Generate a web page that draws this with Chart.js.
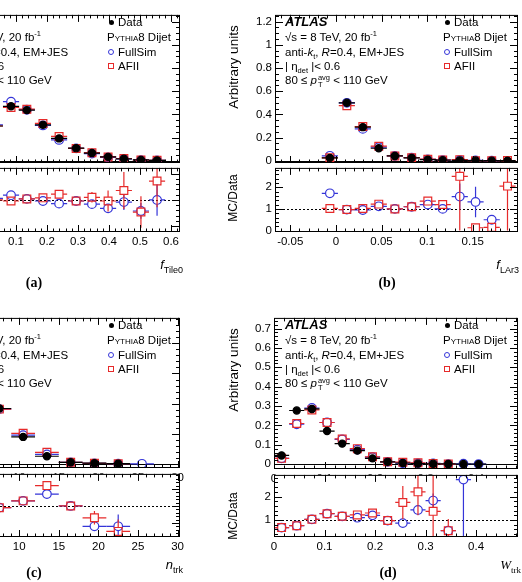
<!DOCTYPE html>
<html>
<head>
<meta charset="utf-8">
<script src="https://cdn.jsdelivr.net/npm/chart.js@4.4.1/dist/chart.umd.min.js"></script>
<style>
  html, body { margin: 0; padding: 0; background: #fff; }
  body { position: relative; width: 522px; height: 582px; overflow: hidden;
         font-family: "Liberation Sans", Arial, sans-serif; color: #000; }
  canvas { position: absolute; }
  .txt { position: absolute; white-space: nowrap; font-size: 11.5px; line-height: 14px; z-index: 5; }
  .txt sup, .txt sub { font-size: 7.5px; line-height: 0; }
  .atlas { font-weight: bold; font-style: italic; font-size: 13px; }
  .stk { display: inline-block; vertical-align: -3px; font-size: 7.5px; line-height: 7.5px; margin-left: 1px; }
  .stk span { display: block; }
  .mk { position: absolute; box-sizing: border-box; z-index: 5; }
  .vt { position: absolute; white-space: nowrap; font-size: 12px; z-index: 5;
        transform: translate(-50%, -50%) rotate(-90deg); }
  .vt.big { font-size: 13.5px; }
  .xt { position: absolute; white-space: nowrap; font-size: 13px; font-style: italic; z-index: 5;
        transform: translate(-100%, -50%); }
  .xt sub { font-size: 9px; font-style: normal; }
  .pl { position: absolute; font-family: "Liberation Serif", serif; font-weight: bold; font-size: 14px; z-index: 5;
        transform: translate(-50%, -50%); }
</style>
</head>
<body>
<script>
// (a) f_Tile0
const tileX = [0.032, 0.084, 0.135, 0.187, 0.239, 0.294, 0.345, 0.397, 0.448, 0.503, 0.555];
const tileBinWidth = 0.052;
const tileData = [0.30, 0.47, 0.437, 0.31, 0.193, 0.109, 0.067, 0.034, 0.017, 0.008, 0.003];
const tileFullSim = [0.31, 0.51, 0.44, 0.305, 0.18, 0.107, 0.062, 0.029, 0.016, 0.006, 0.003];
const tileAFII = [0.30, 0.46, 0.445, 0.322, 0.21, 0.107, 0.07, 0.033, 0.02, 0.006, 0.004];
const tileRatioFullSim = [1.03, 1.09, 1.02, 0.98, 0.93, 0.98, 0.92, 0.84, 0.96, 0.79, 1.00];
const tileRatioAFII = [1.00, 0.98, 1.02, 1.04, 1.11, 0.98, 1.05, 0.98, 1.18, 0.77, 1.36];
const tileErrFullSim = [0.02, 0.02, 0.02, 0.02, 0.02, 0.03, 0.04, 0.06, 0.15, 0.15, 0.3];
const tileErrAFII = [0.02, 0.02, 0.02, 0.02, 0.03, 0.04, 0.1, 0.2, 0.35, 0.3, 0.5];

// (b) f_LAr3
const lar3X = [-0.0066, 0.012, 0.0295, 0.047, 0.0646, 0.083, 0.1007, 0.117, 0.1357, 0.153, 0.1707, 0.188];
const lar3BinWidth = 0.0177;
const lar3Data = [0.025, 0.50, 0.29, 0.108, 0.042, 0.025, 0.01, 0.006, 0.004, 0.002, 0.0015, 0.001];
const lar3FullSim = [0.043, 0.50, 0.275, 0.118, 0.042, 0.027, 0.012, 0.006, 0.006, 0.003, 0.001, null];
const lar3AFII = [0.026, 0.475, 0.295, 0.126, 0.042, 0.027, 0.014, 0.007, 0.01, 0.0003, 0.0002, 0.002];
const lar3RatioFullSim = [1.72, 0.97, 0.95, 1.12, 1.0, 1.1, 1.2, 1.0, 1.57, 1.32, 0.5, null];
const lar3RatioAFII = [1.02, 0.97, 1.02, 1.22, 1.0, 1.1, 1.36, 1.2, 2.5, 0.13, 0.15, 2.05];
const lar3ErrFullSim = [0.08, 0.02, 0.03, 0.04, 0.04, 0.05, 0.1, 0.15, 0.6, 0.7, 0.15, 0];
const lar3ErrAFII = [0.06, 0.02, 0.03, 0.05, 0.04, 0.06, 0.15, 0.15, 2.5, 0.1, 0.1, 2.05];

// (c) n_trk
const ntrkX = [7.5, 10.5, 13.5, 16.5, 19.5, 22.5, 25.5];
const ntrkBinWidth = 3;
const ntrkData = [0.184, 0.09, 0.026, 0.006, 0.003, 0.0015, null];
const ntrkFullSim = [0.182, 0.096, 0.032, 0.006, 0.0027, 0.0013, 0.001];
const ntrkAFII = [0.182, 0.102, 0.039, 0.006, 0.0028, 0.0013, null];
const ntrkRatioFullSim = [0.99, 1.03, 1.07, 1.0, 0.88, 0.88, null];
const ntrkRatioAFII = [0.99, 1.03, 1.12, 1.0, 0.93, 0.85, null];
const ntrkErrFullSim = [0.005, 0.005, 0.01, 0.02, 0.02, 0.07, 0];
const ntrkErrAFII = [0.005, 0.005, 0.01, 0.02, 0.04, 0.07, 0];

// (d) W_trk
const wtrkX = [0.015, 0.045, 0.075, 0.105, 0.135, 0.165, 0.195, 0.225, 0.255, 0.285, 0.315, 0.345, 0.375, 0.405];
const wtrkBinWidth = 0.03;
const wtrkData = [0.045, 0.277, 0.285, 0.171, 0.106, 0.07, 0.03, 0.012, 0.006, 0.003, 0.002, 0.001, 0.0007, 0.0003];
const wtrkFullSim = [0.03, 0.206, 0.29, 0.215, 0.128, 0.075, 0.036, 0.012, 0.005, 0.004, 0.004, 0.0006, 0.002, 0.0004];
const wtrkAFII = [0.03, 0.21, 0.28, 0.215, 0.13, 0.08, 0.038, 0.012, 0.01, 0.007, 0.003, 0.0006, null, null];
const wtrkRatioFullSim = [0.68, 0.76, 1.03, 1.27, 1.16, 1.1, 1.2, 0.98, 0.87, 1.43, 1.83, 0.55, 2.72, null];
const wtrkRatioAFII = [0.68, 0.76, 1.03, 1.27, 1.16, 1.22, 1.3, 0.98, 1.75, 2.2, 1.37, 0.55, null, null];
const wtrkErrFullSim = [0.03, 0.02, 0.02, 0.02, 0.03, 0.04, 0.05, 0.08, 0.15, 0.2, 0.3, 0.1, 2.5, 0];
const wtrkErrAFII = [0.03, 0.02, 0.02, 0.02, 0.03, 0.05, 0.06, 0.08, 0.7, 1.0, 1.6, 0.5, 0, 0];

// tick values and labels
const tileTicks = [-0.1, 0, 0.1, 0.2, 0.3, 0.4, 0.5, 0.6];
const tileTickLabels = ["-0.1", "0", "0.1", "0.2", "0.3", "0.4", "0.5", "0.6"];
const lar3Ticks = [-0.05, 0, 0.05, 0.1, 0.15];
const lar3TickLabels = ["-0.05", "0", "0.05", "0.1", "0.15"];
const ntrkTicks = [0, 5, 10, 15, 20, 25, 30];
const ntrkTickLabels = ["0", "5", "10", "15", "20", "25", "30"];
const wtrkTicks = [0, 0.1, 0.2, 0.3, 0.4];
const wtrkTickLabels = ["0", "0.1", "0.2", "0.3", "0.4"];
const topYTicks = [0, 0.2, 0.4, 0.6, 0.8, 1, 1.2];
const topYTickLabels = ["0", "0.2", "0.4", "0.6", "0.8", "1", "1.2"];
const ntrkYTicks = [0, 0.1, 0.2, 0.3, 0.4];
const ntrkYTickLabels = ["0", "0.1", "0.2", "0.3", "0.4"];
const wtrkYTicks = [0, 0.1, 0.2, 0.3, 0.4, 0.5, 0.6, 0.7];
const wtrkYTickLabels = ["0", "0.1", "0.2", "0.3", "0.4", "0.5", "0.6", "0.7"];
const tileRatioTicks = [0.5, 1, 1.5];
const tileRatioTickLabels = ["0.5", "1", "1.5"];
const lar3RatioTicks = [0, 1, 2];
const lar3RatioTickLabels = ["0", "1", "2"];
const ntrkRatioTicks = [0.9, 1, 1.1];
const ntrkRatioTickLabels = ["0.9", "1", "1.1"];
const wtrkRatioTicks = [1, 2];
const wtrkRatioTickLabels = ["1", "2"];

const FONT = '"Liberation Sans", Arial, sans-serif';
const BLUE = '#3535d8';
const RED = '#e62a2a';

// frame, inward ticks, reference lines and error bars, drawn in ROOT/ATLAS style
const atlasFrame = {
  id: 'atlasFrame',
  beforeDraw(chart, args, o) {
    if (!o.fill) return;
    const a = chart.chartArea, ctx = chart.ctx;
    ctx.save();
    ctx.fillStyle = '#fff';
    ctx.fillRect(a.left, a.top, a.right - a.left, a.bottom - a.top);
    ctx.restore();
  },
  beforeDatasetsDraw(chart, args, o) {
    const { ctx, chartArea: a, scales: { y } } = chart;
    ctx.save();
    ctx.strokeStyle = '#000';
    ctx.lineWidth = 1;
    if (o.zero) {
      const py = Math.round(y.getPixelForValue(0)) + 0.5;
      ctx.beginPath(); ctx.moveTo(a.left, py); ctx.lineTo(a.right, py); ctx.stroke();
    }
    if (o.unity) {
      const py = Math.round(y.getPixelForValue(1)) + 0.5;
      ctx.setLineDash([2, 2]);
      ctx.beginPath(); ctx.moveTo(a.left, py); ctx.lineTo(a.right, py); ctx.stroke();
    }
    ctx.restore();
  },
  beforeDatasetDraw(chart, args) {
    const ds = chart.data.datasets[args.index];
    const { ctx, chartArea: a, scales: { x, y } } = chart;
    ctx.save();
    ctx.beginPath(); ctx.rect(a.left, a.top, a.right - a.left, a.bottom - a.top); ctx.clip();
    ctx.strokeStyle = ds.borderColor;
    ctx.lineWidth = 1.2;
    ds.data.forEach(p => {
      const px = x.getPixelForValue(p.x), py = y.getPixelForValue(p.y);
      const xl = x.getPixelForValue(p.x - ds.halfWidth), xr = x.getPixelForValue(p.x + ds.halfWidth);
      const g = ds.gap;
      ctx.beginPath();
      ctx.moveTo(xl, py); ctx.lineTo(px - g, py);
      ctx.moveTo(px + g, py); ctx.lineTo(xr, py);
      if (p.e) {
        const yt = y.getPixelForValue(p.y + p.e), yb = y.getPixelForValue(p.y - p.e);
        if (py - g > yt) { ctx.moveTo(px, py - g); ctx.lineTo(px, yt); }
        if (py + g < yb) { ctx.moveTo(px, py + g); ctx.lineTo(px, yb); }
      }
      ctx.stroke();
    });
    ctx.restore();
  },
  afterDraw(chart, args, o) {
    const { ctx, chartArea: a, scales: { x, y } } = chart;
    ctx.save();
    ctx.strokeStyle = '#000';
    ctx.lineWidth = 1;
    ctx.strokeRect(a.left + 0.5, a.top + 0.5, a.right - a.left - 1, a.bottom - a.top - 1);
    ctx.beginPath();
    const xTick = (v, len) => {
      const px = Math.round(x.getPixelForValue(v)) + 0.5;
      if (px <= a.left + 1 || px >= a.right - 1) return;
      ctx.moveTo(px, a.bottom); ctx.lineTo(px, a.bottom - len);
      ctx.moveTo(px, a.top); ctx.lineTo(px, a.top + len);
    };
    const yTick = (v, len) => {
      const py = Math.round(y.getPixelForValue(v)) + 0.5;
      if (py <= a.top + 1 || py >= a.bottom - 1) return;
      ctx.moveTo(a.left, py); ctx.lineTo(a.left + len, py);
      ctx.moveTo(a.right, py); ctx.lineTo(a.right - len, py);
    };
    for (let v = Math.ceil(x.min / o.xMinor) * o.xMinor; v <= x.max; v += o.xMinor) xTick(v, 3.5);
    for (let v = Math.ceil(y.min / o.yMinor) * o.yMinor; v <= y.max; v += o.yMinor) yTick(v, 4);
    x.ticks.forEach(t => xTick(t.value, 7));
    y.ticks.forEach(t => yTick(t.value, 8));
    ctx.stroke();
    ctx.restore();
  }
};
Chart.register(atlasFrame);

function axisOpt(pos, min, max, ticks, labels, fit) {
  return {
    type: 'linear', position: pos, min: min, max: max,
    grid: { display: false, drawTicks: false },
    border: { display: false },
    ticks: {
      autoSkip: false, maxRotation: 0, minRotation: 0, padding: 3, color: '#000',
      font: { family: FONT, size: 11.5 },
      callback: (v, i) => labels[i]
    },
    afterBuildTicks: s => { s.ticks = ticks.map(v => ({ value: v })); },
    afterFit: s => { if (pos === 'bottom') s.height = fit; else s.width = fit; }
  };
}

function points(xs, ys, errs) {
  return xs.map((x, i) => ({ x: x, y: ys[i], e: errs ? errs[i] : 0 })).filter(p => p.y !== null);
}

function series(kind, data, half) {
  const style = {
    data: { pointStyle: 'circle', pointRadius: 3.6, backgroundColor: '#000', borderColor: '#000', gap: 3.6 },
    full: { pointStyle: 'circle', pointRadius: 4.3, backgroundColor: 'rgba(0,0,0,0)', borderColor: BLUE, gap: 4.3 },
    afii: { pointStyle: 'rect', pointRadius: 5.5, backgroundColor: 'rgba(0,0,0,0)', borderColor: RED, gap: 3.9 }
  }[kind];
  return Object.assign({ data: data, showLine: false, borderWidth: 1.2, clip: 0, halfWidth: half,
    pointHoverRadius: style.pointRadius }, style);
}

// frame = [left, top, right, bottom] of the plotting box in page pixels
function makeChart(frame, datasets, xAx, yAx, plug, z) {
  const [l, t, r, b] = frame;
  const padT = 6, padR = 8, yW = 45, xH = 24;
  const cx = l - yW, cy = t - padT, cw = r + padR - cx, ch = b + xH - cy;
  const cv = document.createElement('canvas');
  cv.width = cw; cv.height = ch;
  Object.assign(cv.style, { left: cx + 'px', top: cy + 'px', width: cw + 'px', height: ch + 'px', zIndex: z });
  document.body.appendChild(cv);
  return new Chart(cv, {
    type: 'scatter',
    data: { datasets: datasets },
    options: {
      responsive: false, animation: false, devicePixelRatio: 1,
      layout: { padding: { top: padT, right: padR, left: 0, bottom: 0 } },
      scales: {
        x: axisOpt('bottom', xAx[0], xAx[1], xAx[2], xAx[3], xH),
        y: axisOpt('left', yAx[0], yAx[1], yAx[2], yAx[3], yW)
      },
      plugins: { legend: { display: false }, tooltip: { enabled: false }, atlasFrame: plug }
    }
  });
}

function panel(frames, X, bw, D, F, A, RF, RA, EF, EA, xAx, yMain, yRatio, xMinor, yMinor, rMinor) {
  makeChart(frames[0], [
    series('data', points(X, D), bw / 2),
    series('afii', points(X, A), bw / 2),
    series('full', points(X, F), bw / 2)
  ], xAx, yMain, { xMinor: xMinor, yMinor: yMinor, zero: true }, 1);
  makeChart(frames[1], [
    series('afii', points(X, RA, EA), bw / 2),
    series('full', points(X, RF, EF), bw / 2)
  ], xAx, yRatio, { xMinor: xMinor, yMinor: rMinor, unity: true, fill: true }, 2);
}

panel([[-64, 11, 180, 163], [-64, 164, 180, 232]], tileX, tileBinWidth, tileData, tileFullSim, tileAFII,
  tileRatioFullSim, tileRatioAFII, tileErrFullSim, tileErrAFII,
  [-0.158, 0.629, tileTicks, tileTickLabels], [-0.019, 1.258, topYTicks, topYTickLabels],
  [0.39, 1.61, tileRatioTicks, tileRatioTickLabels], 0.02, 0.05, 0.1);

panel([[275, 11, 518, 163], [275, 164, 518, 232]], lar3X, lar3BinWidth, lar3Data, lar3FullSim, lar3AFII,
  lar3RatioFullSim, lar3RatioAFII, lar3ErrFullSim, lar3ErrAFII,
  [-0.0667, 0.1995, lar3Ticks, lar3TickLabels], [-0.019, 1.258, topYTicks, topYTickLabels],
  [-0.065, 2.89, lar3RatioTicks, lar3RatioTickLabels], 0.01, 0.05, 0.2);

panel([[-64, 314, 180, 468], [-64, 470, 180, 537]], ntrkX, ntrkBinWidth, ntrkData, ntrkFullSim, ntrkAFII,
  ntrkRatioFullSim, ntrkRatioAFII, ntrkErrFullSim, ntrkErrAFII,
  [-0.5, 30.3, ntrkTicks, ntrkTickLabels], [-0.0129, 0.484, ntrkYTicks, ntrkYTickLabels],
  [0.817, 1.189, ntrkRatioTicks, ntrkRatioTickLabels], 1, 0.02, 0.02);

panel([[274, 314, 518, 469], [274, 471, 518, 537]], wtrkX, wtrkBinWidth, wtrkData, wtrkFullSim, wtrkAFII,
  wtrkRatioFullSim, wtrkRatioAFII, wtrkErrFullSim, wtrkErrAFII,
  [0, 0.483, wtrkTicks, wtrkTickLabels], [-0.025, 0.755, wtrkYTicks, wtrkYTickLabels],
  [0.28, 2.92, wtrkRatioTicks, wtrkRatioTickLabels], 0.02, 0.02, 0.2);

// text overlays
function put(cls, html, x, y) {
  const d = document.createElement('div');
  d.className = cls;
  d.innerHTML = html;
  d.style.left = x + 'px';
  d.style.top = y + 'px';
  document.body.appendChild(d);
  return d;
}
function marker(kind, x, y) {
  const d = document.createElement('div');
  d.className = 'mk';
  const s = kind === 'dot' ? 5 : 6;
  Object.assign(d.style, { left: (x - s / 2) + 'px', top: (y - s / 2) + 'px', width: s + 'px', height: s + 'px' });
  if (kind === 'dot') { d.style.background = '#000'; d.style.borderRadius = '50%'; }
  if (kind === 'circ') { d.style.border = '1px solid ' + BLUE; d.style.borderRadius = '50%'; }
  if (kind === 'sq') { d.style.border = '1px solid ' + RED; }
  document.body.appendChild(d);
}
function infoBlock(dx, dy) {
  put('txt', '<span class="atlas">ATLAS</span>', 285 + dx, 22 + dy - 7);
  put('txt', '√s = 8 TeV, 20 fb<sup>-1</sup>', 285 + dx, 37 + dy - 7);
  put('txt', 'anti-<i>k</i><sub>t</sub>, <i>R</i>=0.4, EM+JES', 285 + dx, 52 + dy - 7);
  put('txt', '| η<sub>det</sub> |&lt; 0.6', 285 + dx, 66 + dy - 7);
  put('txt', '80 ≤ <i>p</i><span class="stk"><span>avg</span><span>T</span></span> &lt; 110 GeV', 285 + dx, 80 + dy - 7);
  marker('dot', 447 + dx, 22 + dy);
  put('txt', 'Data', 454 + dx, 22 + dy - 7);
  put('txt', '<span style="font-variant:small-caps">Pythia</span>8 Dijet', 443 + dx, 37 + dy - 7);
  marker('circ', 447 + dx, 52 + dy);
  put('txt', 'FullSim', 454 + dx, 52 + dy - 7);
  marker('sq', 447 + dx, 66 + dy);
  put('txt', 'AFII', 454 + dx, 66 + dy - 7);
}
infoBlock(-336, 0);
infoBlock(0, 0);
infoBlock(-336, 303);
infoBlock(0, 303);

put('vt big', 'Arbitrary units', 233, 67);
put('vt', 'MC/Data', 233, 198);
put('vt big', 'Arbitrary units', 233, 370);
put('vt', 'MC/Data', 233, 516);

put('xt', 'f<sub>Tile0</sub>', 183, 266);
put('xt', 'f<sub>LAr3</sub>', 519, 266);
put('xt', 'n<sub>trk</sub>', 183, 566);
put('xt', '<span style="font-family:\'Liberation Serif\',serif">W</span><sub style="font-family:\'Liberation Serif\',serif">trk</sub>', 521, 566);

put('pl', '(a)', 34, 283);
put('pl', '(b)', 387, 283);
put('pl', '(c)', 34, 573);
put('pl', '(d)', 388, 573);
</script>
</body>
</html>
